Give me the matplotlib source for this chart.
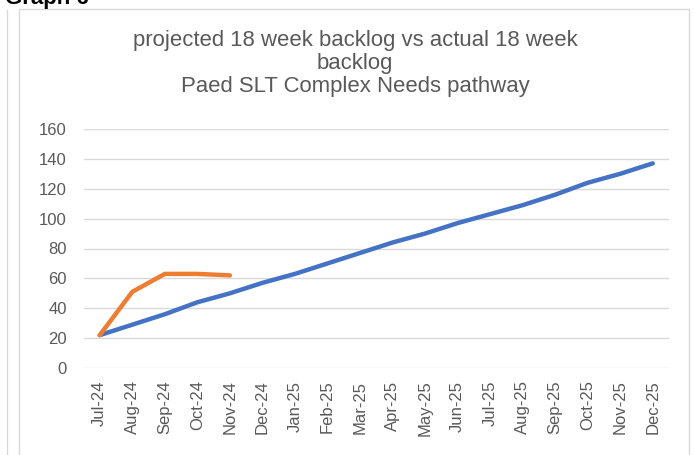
import matplotlib.pyplot as plt
from matplotlib.patches import Rectangle
from matplotlib.lines import Line2D

plt.rcParams['font.family'] = ['Liberation Sans', 'DejaVu Sans']

months = ['Jul-24', 'Aug-24', 'Sep-24', 'Oct-24', 'Nov-24', 'Dec-24',
          'Jan-25', 'Feb-25', 'Mar-25', 'Apr-25', 'May-25', 'Jun-25',
          'Jul-25', 'Aug-25', 'Sep-25', 'Oct-25', 'Nov-25', 'Dec-25']
projected = [22, 29, 36, 44, 50, 57, 63, 70, 77, 84, 90, 97,
             103, 109, 116, 124, 130, 137]
actual = [22, 51, 63, 63, 62]

W, H = 694, 455
fig = plt.figure(figsize=(W / 100, H / 100), dpi=100)

# chart frame and neighbouring panel edge
fig.add_artist(Rectangle((19 / W, -0.05), 670 / W, 1.05 - 9 / H,
                         transform=fig.transFigure, fill=False,
                         edgecolor='#D9D9D9', lw=1))
fig.add_artist(Line2D([7 / W, 7 / W], [0, 1 - 10 / H],
                      transform=fig.transFigure, color='#D9D9D9', lw=1))
fig.text(5 / W, 1 - 4 / H, 'Graph 6', fontsize=16, fontweight='bold',
         va='baseline', ha='left', color='black')

ax = fig.add_axes([83.5 / W, 1 - 368 / H, 585.5 / W, 239 / H])
x = range(len(months))
ax.plot(x, projected, color='#4472C4', lw=3.2, solid_capstyle='round',
        solid_joinstyle='round', zorder=3)
ax.plot(range(len(actual)), actual, color='#ED7D31', lw=3.2,
        solid_capstyle='round', solid_joinstyle='round', zorder=3)

ax.set_xlim(-0.5, len(months) - 0.5)
ax.set_ylim(0, 160)
ax.set_yticks(range(0, 161, 20))
ax.set_xticks(list(x))
ax.set_xticklabels(months, rotation=90)
ax.grid(axis='y', color='#D9D9D9', lw=1)
ax.set_axisbelow(True)
for s in ax.spines.values():
    s.set_visible(False)
ax.tick_params(length=0, labelsize=12, colors='#595959')
ax.tick_params(axis='y', pad=12)
ax.tick_params(axis='x', pad=9)

fig.text(355 / W, 1 - 30 / H,
         'projected 18 week backlog vs actual 18 week\nbacklog\nPaed SLT Complex Needs pathway',
         ha='center', va='top', fontsize=15.9, color='#595959',
         linespacing=1.12)

plt.savefig('out.png', dpi=100)
